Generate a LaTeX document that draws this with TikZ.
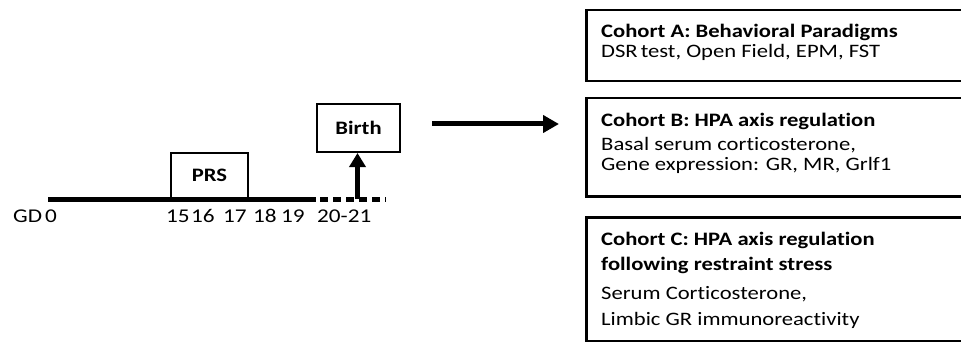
\documentclass[tikz,border=0pt]{standalone}
\usepackage{fontspec}
\setmainfont[Ligatures=NoCommon]{Carlito}
\newfontfamily\widefont[Ligatures=NoCommon,FakeStretch=1.19]{Carlito}
\usetikzlibrary{arrows.meta}
\begin{document}
\begin{tikzpicture}[x=1pt,y=-1pt,
  tlbox/.style={draw, line width=2pt, inner sep=0pt, font=\widefont\fontsize{19}{22}\selectfont\bfseries},
  cbox/.style={draw, line width=2.5pt, inner sep=0pt, anchor=north west},
  tick/.style={anchor=base west, inner sep=0pt, font=\widefont\fontsize{19.5}{22}\selectfont},
  head/.style={anchor=base west, inner sep=0pt, font=\widefont\fontsize{19}{21}\selectfont\bfseries},
  body/.style={anchor=base west, inner sep=0pt, font=\widefont\fontsize{19}{21}\selectfont},
  thickarrow/.style={line width=5pt, -{Triangle[length=16pt,width=17pt]}},
  birtharrow/.style={line width=4.5pt, -{Triangle[length=14pt,width=16pt]}}]
\useasboundingbox (0,0) rectangle (961,342);
\clip (0,0) rectangle (961,342);
% timeline
\coordinate (t0) at (48,199);
\coordinate (t1) at (316,199);
\coordinate (t1b) at (320,199);
\coordinate (t2) at (386,199);
\draw[line width=5pt] (t0) -- (t1);
\draw[line width=5pt, dash pattern=on 8pt off 5pt] (t1b) -- (t2);
% PRS box
\node[tlbox, minimum width=77pt, minimum height=45pt, anchor=south west] (prs) at (170,199) {PRS};
% Birth box
\node[tlbox, minimum width=83pt, minimum height=48pt, anchor=north west] (birth) at (316,103) {Birth};
\coordinate (bstart) at (357.5,199);
\draw[birtharrow] (bstart) -- (bstart |- birth.south);
% labels
\node[tick] (gd) at (13,222) {GD\hspace{3pt}0};
\node[tick] (d15) at (166,222) {15};
\node[tick] (d16) at (191,222) {16};
\node[tick] (d17) at (223,222) {17};
\node[tick] (d18) at (253,222) {18};
\node[tick] (d19) at (281,222) {19};
\node[tick] (d20) at (317,222) {20-21};
% big arrow
\coordinate (a0) at (432,124);
\coordinate (a1) at (559,124);
\draw[thickarrow] (a0) -- (a1);
% cohort boxes
\node[cbox, minimum width=400pt, minimum height=71pt] (ca) at (585,9) {};
\node[cbox, minimum width=400pt, minimum height=98pt] (cb) at (585,97) {};
\node[cbox, minimum width=400pt, minimum height=124pt] (cc) at (585,216) {};
\node[head] (ca1) at (601,38) {Cohort A: Behavioral Paradigms};
\node[body] (ca2) at (601,58) {DSR\hspace{3pt}test, Open Field, EPM, FST};
\node[head] (cb1) at (601,127) {Cohort B: HPA axis regulation};
\node[body] (cb2) at (601,150) {Basal serum corticosterone,};
\node[body] (cb3) at (601,171) {Gene expression: GR, MR, Grlf1};
\node[head] (cc1) at (601,245) {Cohort C: HPA axis regulation};
\node[head] (cc2) at (601,270) {following restraint stress};
\node[body] (cc3) at (601,299) {Serum Corticosterone,};
\node[body] (cc4) at (601,325) {Limbic GR immunoreactivity};
\end{tikzpicture}
\end{document}
